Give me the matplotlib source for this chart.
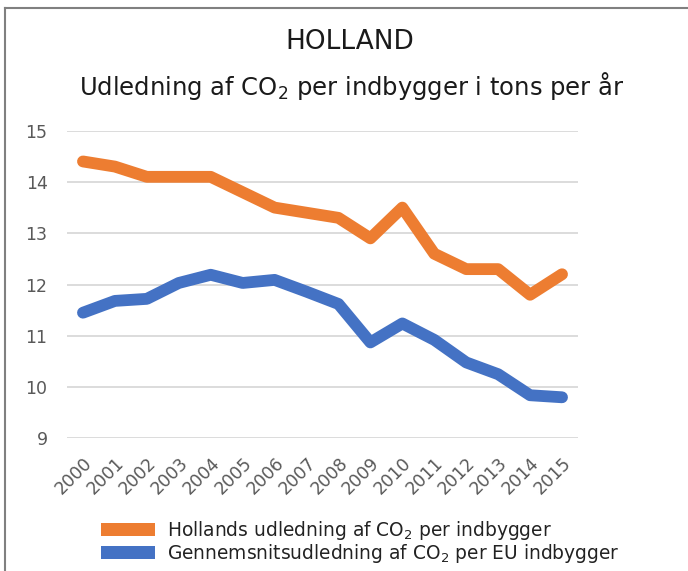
import matplotlib
matplotlib.use("Agg")
import matplotlib.pyplot as plt
from matplotlib.lines import Line2D
from matplotlib.patches import Patch

years = [str(y) for y in range(2000, 2016)]
holland = [14.4, 14.3, 14.1, 14.1, 14.1, 13.8, 13.5, 13.4, 13.3, 12.9, 13.5, 12.6, 12.3, 12.3, 11.8, 12.2]
eu_avg = [11.45, 11.68, 11.72, 12.03, 12.19, 12.03, 12.09, 11.86, 11.62, 10.87, 11.24, 10.92, 10.48, 10.25, 9.84, 9.80]
yticks = [9, 10, 11, 12, 13, 14, 15]
title = "HOLLAND"
subtitle = "Udledning af CO$_2$ per indbygger i tons per år"
labels = ["Hollands udledning af CO$_2$ per indbygger",
          "Gennemsnitsudledning af CO$_2$ per EU indbygger"]

plt.rcParams['font.family'] = ['DejaVu Sans']
plt.rcParams['mathtext.default'] = 'regular'

W, H = 688, 571
fig = plt.figure(figsize=(W / 100, H / 100), dpi=100)
ax = fig.add_axes([67 / W, 1 - 438.3 / H, (578 - 67) / W, (438.3 - 130.7) / H])

orange = "#ED7D31"
blue = "#4472C4"
x = list(range(len(years)))
ax.plot(x, holland, color=orange, lw=8.5, solid_capstyle='round', solid_joinstyle='round', zorder=3)
ax.plot(x, eu_avg, color=blue, lw=8.5, solid_capstyle='round', solid_joinstyle='round', zorder=3)

ax.set_xlim(-0.5, len(years) - 0.5)
ax.set_ylim(9, 15)
ax.set_yticks(yticks)
ax.set_yticklabels([str(t) for t in yticks])
ax.set_xticks(x)
ax.set_xticklabels(years, rotation=45, ha='right', va='top', rotation_mode='anchor')
ax.grid(axis='y', color='#D9D9D9', lw=1.3)
ax.set_axisbelow(True)
for s in ax.spines.values():
    s.set_visible(False)
ax.tick_params(axis='both', length=0, colors='#595959', labelsize=12.5)
ax.tick_params(axis='y', pad=14)
ax.tick_params(axis='x', pad=11)

fig.text(350 / W, 1 - 42 / H, title, ha='center', va='center', fontsize=19, color='#1a1a1a')
fig.text(352 / W, 1 - 86 / H, subtitle, ha='center', va='center', fontsize=17.5, color='#1a1a1a')

handles = [Patch(facecolor=orange, edgecolor='none'), Patch(facecolor=blue, edgecolor='none')]
fig.legend(handles, labels, loc='upper left', bbox_to_anchor=(100.7 / W, 1 - 519 / H),
           frameon=False, fontsize=13.4, handlelength=2.9, handleheight=0.76,
           handletextpad=0.68, labelspacing=0.0, borderpad=0, borderaxespad=0,
           labelcolor='#222222')

fig.add_artist(Line2D([4.5 / W, 4.5 / W], [0, 1 - 7.5 / H], transform=fig.transFigure,
                      color='#808080', lw=1.5))
fig.add_artist(Line2D([4.5 / W, 1], [1 - 7.5 / H, 1 - 7.5 / H], transform=fig.transFigure,
                      color='#808080', lw=1.5))

fig.savefig("out.png", dpi=100)
